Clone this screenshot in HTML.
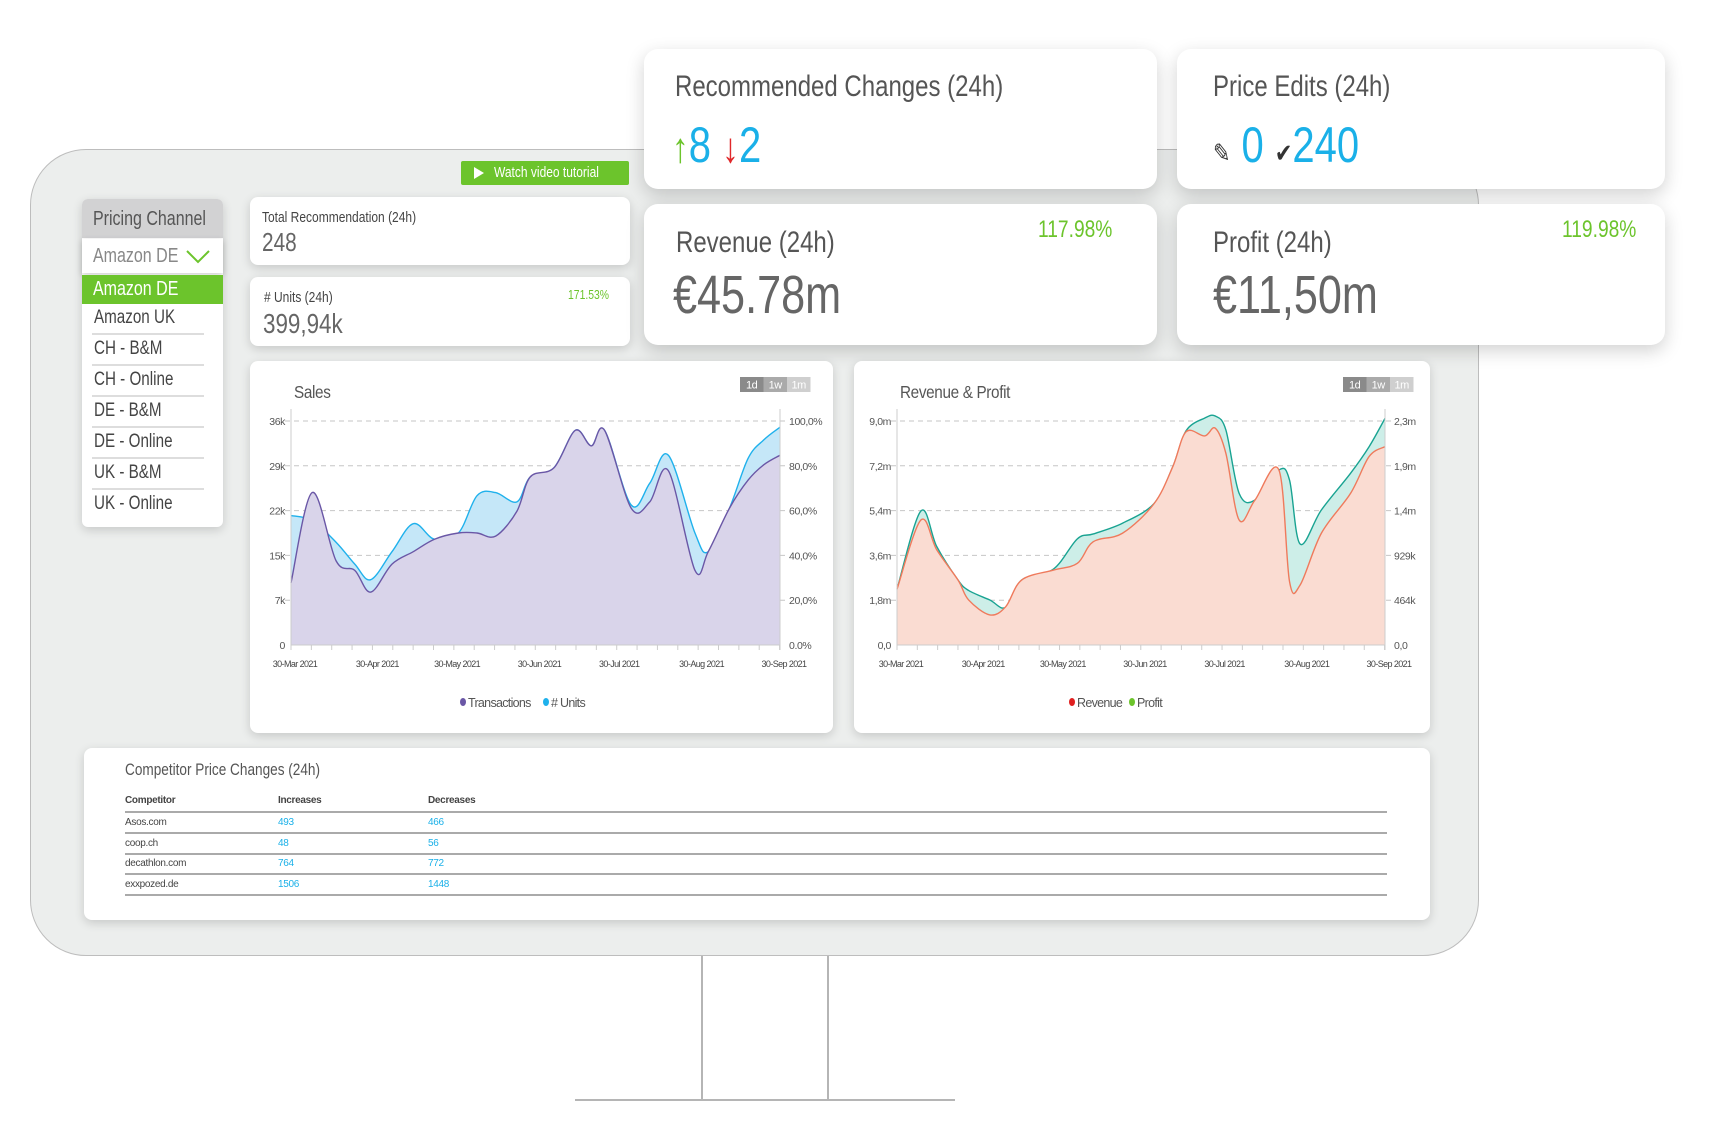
<!DOCTYPE html>
<html><head><meta charset="utf-8">
<style>
*{margin:0;padding:0;box-sizing:border-box}
body{width:1724px;height:1127px;background:#fff;position:relative;overflow:hidden;font-family:"Liberation Sans",sans-serif;color:#555}
.abs{position:absolute;white-space:nowrap}
.c{display:inline-block;transform:scaleX(.8);transform-origin:0 0;white-space:nowrap}
.card{position:absolute;background:#fff;border-radius:8px;box-shadow:0 3px 10px rgba(0,0,0,.16)}
.big{border-radius:14px;box-shadow:0 6px 18px rgba(0,0,0,.18)}
.item{position:absolute;left:10px;width:112px;font-size:19px;color:#444;border-bottom:2px solid #ddd;height:31px;line-height:28px;padding-left:2px;white-space:nowrap}
.tbl{position:absolute;font-size:10px;color:#444;white-space:nowrap}
.blue{color:#1ab0e8}
</style></head><body>
<div class="abs" style="left:30px;top:149px;width:1449px;height:807px;background:#eceeed;border:1.5px solid #bdbdbd;border-radius:56px"></div>
<div class="abs" style="left:701px;top:956px;width:2px;height:145px;background:#b5b5b5"></div>
<div class="abs" style="left:827px;top:956px;width:2px;height:145px;background:#b5b5b5"></div>
<div class="abs" style="left:575px;top:1099px;width:380px;height:2px;background:#b5b5b5"></div>

<div class="abs" style="left:461px;top:161px;width:168px;height:24px;background:#6cc42c;border-radius:2px;color:#fff;font-size:15px;line-height:24px;padding-left:33px"><span class="c">Watch video tutorial</span><span style="position:absolute;left:13px;top:6px;width:0;height:0;border-left:10px solid #fff;border-top:6px solid transparent;border-bottom:6px solid transparent"></span></div>

<div class="card" style="left:82px;top:199px;width:141px;height:328px;border-radius:6px">
 <div class="abs" style="left:0;top:0;width:141px;height:39px;background:#d2d2d3;border-radius:6px 6px 0 0;font-size:20px;color:#555;line-height:40px;padding-left:11px"><span class="c">Pricing Channel</span></div>
 <div class="abs" style="left:0;top:40px;width:141px;height:34px;background:#fff;box-shadow:0 2px 6px rgba(0,0,0,.2);font-size:20px;color:#888;line-height:34px;padding-left:11px"><span class="c">Amazon DE</span><svg style="position:absolute;left:104px;top:11px" width="24" height="14"><polyline points="1,1 12,12 23,1" fill="none" stroke="#6cc42c" stroke-width="2"/></svg></div>
 <div class="abs" style="left:0;top:76px;width:141px;height:29px;background:#6cc42c;color:#fff;font-size:20px;line-height:29px;padding-left:11px"><span class="c">Amazon DE</span></div>
 <div class="item" style="top:105px"><span class="c">Amazon UK</span></div>
 <div class="item" style="top:136px"><span class="c">CH - B&amp;M</span></div>
 <div class="item" style="top:167px"><span class="c">CH - Online</span></div>
 <div class="item" style="top:198px"><span class="c">DE - B&amp;M</span></div>
 <div class="item" style="top:229px"><span class="c">DE - Online</span></div>
 <div class="item" style="top:260px"><span class="c">UK - B&amp;M</span></div>
 <div class="item" style="top:291px;border-bottom:none"><span class="c">UK - Online</span></div>
</div>

<div class="card" style="left:250px;top:197px;width:380px;height:68px">
 <div class="abs" style="left:12px;top:12px;font-size:15px;color:#444"><span class="c">Total Recommendation (24h)</span></div>
 <div class="abs" style="left:12px;top:30px;font-size:26px;color:#666"><span class="c">248</span></div>
</div>
<div class="card" style="left:250px;top:277px;width:380px;height:69px">
 <div class="abs" style="left:14px;top:12px;font-size:15px;color:#444"><span class="c"># Units (24h)</span></div>
 <div class="abs" style="left:318px;top:10px;font-size:13px;color:#6cc42c"><span class="c">171.53%</span></div>
 <div class="abs" style="left:13px;top:31px;font-size:28px;color:#666"><span class="c">399,94k</span></div>
</div>

<div class="card big" style="left:644px;top:49px;width:513px;height:140px">
 <div class="abs" style="left:31px;top:21px;font-size:30px;color:#555"><span class="c">Recommended Changes (24h)</span></div>
 <div class="abs" style="left:28px;top:68px;font-size:50px;line-height:56px;color:#1ab0e8"><span class="c"><span style="color:#6cc42c;font-size:42px">&#8593;</span>8 <span style="color:#e0282a;font-size:42px">&#8595;</span>2</span></div>
</div>
<div class="card big" style="left:1177px;top:49px;width:488px;height:140px">
 <div class="abs" style="left:36px;top:21px;font-size:30px;color:#555"><span class="c">Price Edits (24h)</span></div>
 <div class="abs" style="left:36px;top:68px;font-size:50px;line-height:56px;color:#1ab0e8"><span class="c"><span style="color:#333;font-size:26px">&#9998;</span> 0 <span style="color:#333;font-size:26px">&#10004;</span>240</span></div>
</div>
<div class="card big" style="left:644px;top:204px;width:513px;height:141px">
 <div class="abs" style="left:32px;top:22px;font-size:30px;color:#555"><span class="c">Revenue (24h)</span></div>
 <div class="abs" style="left:394px;top:12px;font-size:24px;color:#6cc42c"><span class="c">117.98%</span></div>
 <div class="abs" style="left:29px;top:60px;font-size:54px;color:#666"><span class="c">€45.78m</span></div>
</div>
<div class="card big" style="left:1177px;top:204px;width:488px;height:141px">
 <div class="abs" style="left:36px;top:22px;font-size:30px;color:#555"><span class="c">Profit (24h)</span></div>
 <div class="abs" style="left:385px;top:12px;font-size:24px;color:#6cc42c"><span class="c">119.98%</span></div>
 <div class="abs" style="left:36px;top:60px;font-size:54px;color:#666"><span class="c">€11,50m</span></div>
</div>

<div class="card" style="left:250px;top:361px;width:583px;height:372px"></div>
<div class="card" style="left:854px;top:361px;width:576px;height:372px"></div>

<div class="card" style="left:84px;top:748px;width:1346px;height:172px">
 <div class="abs" style="left:41px;top:12px;font-size:17px;color:#555"><span class="c">Competitor Price Changes (24h)</span></div>
</div>
<div id="tbl"></div>

<svg id="charts" class="abs" style="left:0;top:0" width="1724" height="1127"></svg>

<script>
// ---- Sales data ----
const salesDays = [0,8,17,24,30,38,46,54,63,70,77,85,90,99,107,113,118,128,135,142,152,157,165,172,178,184];
const transactions = [10,24.5,13.5,12,8.5,13,15,17,18,18,17.5,21.5,27,28.5,34.5,32,34.5,22,23,28,12,15,22,26.5,29,30.5];
const units = [20.8,20,16.5,13,10.5,15,19.5,17,18,24,24.5,23,27,28.5,34.5,32,34.5,22.5,26,30.5,18,15,22,30,33,35];
const salesLeftTicks = ["0","7k","15k","22k","29k","36k"];
const salesRightTicks = ["0.0%","20,0%","40,0%","60,0%","80,0%","100,0%"];
// ---- Revenue & Profit data ----
const rpDays = [0,9,15,23,27,35,41,47,59,68,74,85,97,104,109,116,120,124,129,135,144,148,152,160,171,178,184];
const revenue = [2.24,5.02,3.82,2.61,1.81,1.21,1.54,2.61,3.01,3.28,4.15,4.49,5.69,7.17,8.57,8.40,8.71,7.70,5.02,5.83,7.03,2.55,2.41,4.49,6.09,7.57,7.97];
const profit = [572,1376,1010,667,560,462,387,667,780,1090,1140,1250,1455,1831,2200,2330,2351,2208,1557,1489,1797,1694,1037,1386,1763,2036,2327];
const rpLeftTicks = ["0,0","1,8m","3,6m","5,4m","7,2m","9,0m"];
const rpRightTicks = ["0,0","464k","929k","1,4m","1,9m","2,3m"];
// ---- shared ----
const monthLabels = ["30-Mar 2021","30-Apr 2021","30-May 2021","30-Jun 2021","30-Jul 2021","30-Aug 2021","30-Sep 2021"];
const monthDays = [0,31,61,92,122,153,184];
const competitors = ["Asos.com","coop.ch","decathlon.com","exxpozed.de"];
const increases = [493,48,764,1506];
const decreases = [466,56,772,1448];

const NS="http://www.w3.org/2000/svg";
const svg=document.getElementById('charts');
const FF='Liberation Sans, sans-serif';
function mk(tag,attrs,parent){const e=document.createElementNS(NS,tag);for(const k in attrs)e.setAttribute(k,attrs[k]);(parent||svg).appendChild(e);return e;}
function txt(s,attrs){const e=mk('text',Object.assign({'font-family':FF,'letter-spacing':'-0.4'},attrs));e.textContent=s;return e;}
function curve(pts){let d=`M${pts[0][0]},${pts[0][1]}`;for(let i=0;i<pts.length-1;i++){const p0=pts[Math.max(0,i-1)],p1=pts[i],p2=pts[i+1],p3=pts[Math.min(pts.length-1,i+2)];const c1=[p1[0]+(p2[0]-p0[0])/6,p1[1]+(p2[1]-p0[1])/6],c2=[p2[0]-(p3[0]-p1[0])/6,p2[1]-(p3[1]-p1[1])/6];d+=`C${c1[0]},${c1[1]} ${c2[0]},${c2[1]} ${p2[0]},${p2[1]}`;}return d;}

function chart(cfg){
 const X=d=>cfg.x0+d/184*(cfg.x1-cfg.x0);
 const t=txt(cfg.title,{x:cfg.titleX,y:cfg.y1-23,'font-size':18,fill:'#555',transform:`translate(${cfg.titleX},0) scale(0.85,1) translate(${-cfg.titleX},0)`});
 
 
 const bc=['#8a8a8a','#aaaaaa','#cfcfcf'],bl=['1d','1w','1m'];
 bl.forEach((b,i)=>{const r=mk('rect',{x:cfg.btnX+i*23.5,y:cfg.y1-44,width:23.5,height:15,fill:bc[i]});
  
  
  txt(b,{x:cfg.btnX+i*23.5+11.7,y:cfg.y1-32.5,'font-size':11,fill:'#fff','text-anchor':'middle'});});
 cfg.leftTicks.forEach((l,i)=>{const y=cfg.y0-i/5*(cfg.y0-cfg.y1);
  if(i>0){const gl=mk('line',{x1:cfg.x0-6,x2:cfg.x1+6,y1:y,y2:y,stroke:'#c6c6c6','stroke-dasharray':'5,4'});
   
   }
  const a=txt(l,{x:cfg.x0-6,y:y+4,'font-size':10.5,fill:'#555','text-anchor':'end'});
  
  
  const b=txt(cfg.rightTicks[i],{x:cfg.x1+9,y:y+4,'font-size':10.5,fill:'#555'});
  
  });
 const back=cfg.back.map((v,i)=>[X(cfg.days[i]),cfg.y0-v/cfg.backMax*(cfg.y0-cfg.y1)]);
 const front=cfg.front.map((v,i)=>[X(cfg.days[i]),cfg.y0-v/cfg.frontMax*(cfg.y0-cfg.y1)]);
 const bc1=curve(back),fc=curve(front);
 const ba=mk('path',{d:bc1+`L${cfg.x1},${cfg.y0}L${cfg.x0},${cfg.y0}Z`,fill:cfg.backFill});
 
 
 const bl2=mk('path',{d:bc1,fill:'none',stroke:cfg.backStroke,'stroke-width':1.4});
 
 
 const fa=mk('path',{d:fc+`L${cfg.x1},${cfg.y0}L${cfg.x0},${cfg.y0}Z`,fill:cfg.frontFill});
 
 
 const fl=mk('path',{d:fc,fill:'none',stroke:cfg.frontStroke,'stroke-width':1.4});
 
 
 mk('line',{x1:cfg.x0,x2:cfg.x0,y1:cfg.y1-12,y2:cfg.y0+5,stroke:'#ccc'});
 mk('line',{x1:cfg.x1,x2:cfg.x1,y1:cfg.y1-12,y2:cfg.y0+5,stroke:'#ccc'});
 mk('line',{x1:cfg.x0,x2:cfg.x1,y1:cfg.y0,y2:cfg.y0,stroke:'#ccc'});
 for(let d=0;d<=184;d+=7.66){mk('line',{x1:X(d),x2:X(d),y1:cfg.y0,y2:cfg.y0+5,stroke:'#ccc'});}
 monthLabels.forEach((m,i)=>{const a=txt(m,{x:X(monthDays[i])+4,y:cfg.y0+22,'font-size':9,fill:'#444','text-anchor':'middle','letter-spacing':'-0.6'});
  
  });
 cfg.legend.forEach((l,i)=>{const lx=cfg.legX+l[2];
  const c=mk('ellipse',{cx:lx,cy:cfg.y0+57,rx:3,ry:4,fill:l[1]});
  
  
  const e=txt(l[0],{x:lx+5,y:cfg.y0+62,'font-size':12.5,fill:'#555','letter-spacing':'-0.7'});
  
  });
}
chart({name:'sales-chart',title:'Sales',titleX:294,btnX:740,x0:291,x1:780,y0:645,y1:421,days:salesDays,
 back:units,backMax:36,backFill:'#c5e7f8',backStroke:'#1fb1ec',backName:'units',
 front:transactions,frontMax:36,frontFill:'#d9d4ea',frontStroke:'#6a57a6',frontName:'transactions',
 leftTicks:salesLeftTicks,rightTicks:salesRightTicks,legX:463,legend:[['Transactions','#6a57a6',0],['# Units','#1fb1ec',83]]});
chart({name:'revenue-profit-chart',title:'Revenue & Profit',titleX:900,btnX:1343,x0:897,x1:1385,y0:645,y1:421,days:rpDays,
 back:profit,backMax:2300,backFill:'#cdeee8',backStroke:'#19a392',backName:'profit',
 front:revenue,frontMax:9,frontFill:'#fadcd2',frontStroke:'#ef7a5c',frontName:'revenue',
 leftTicks:rpLeftTicks,rightTicks:rpRightTicks,legX:1072,legend:[['Revenue','#e02020',0],['Profit','#6cc42c',60]]});

const tb=document.getElementById('tbl');
function cell(s,x,y,cls,bold,name){const d=document.createElement('div');d.className='tbl '+(cls||'');d.style.left=x+'px';d.style.top=y+'px';if(bold)d.style.fontWeight='bold';d.style.letterSpacing='-0.3px';d.textContent=s;
 
 
 tb.appendChild(d);}
cell('Competitor',125,795,'',true,'header-competitor');
cell('Increases',278,795,'',true,'header-increases');
cell('Decreases',428,795,'',true,'header-decreases');
function hline(y,name){const d=document.createElement('div');d.className='abs';d.style.cssText=`left:125px;top:${y}px;width:1262px;height:2px;background:#aaa`;
 
 
 tb.appendChild(d);}
hline(811,'header-divider');
competitors.forEach((c,i)=>{const y=817+i*20.5;
 cell(c,125,y,'',false,'competitor-name');
 cell(String(increases[i]),278,y,'blue',false,'increase-value');
 cell(String(decreases[i]),428,y,'blue',false,'decrease-value');
 hline(y+15,'row-divider');});
</script>
</body></html>
